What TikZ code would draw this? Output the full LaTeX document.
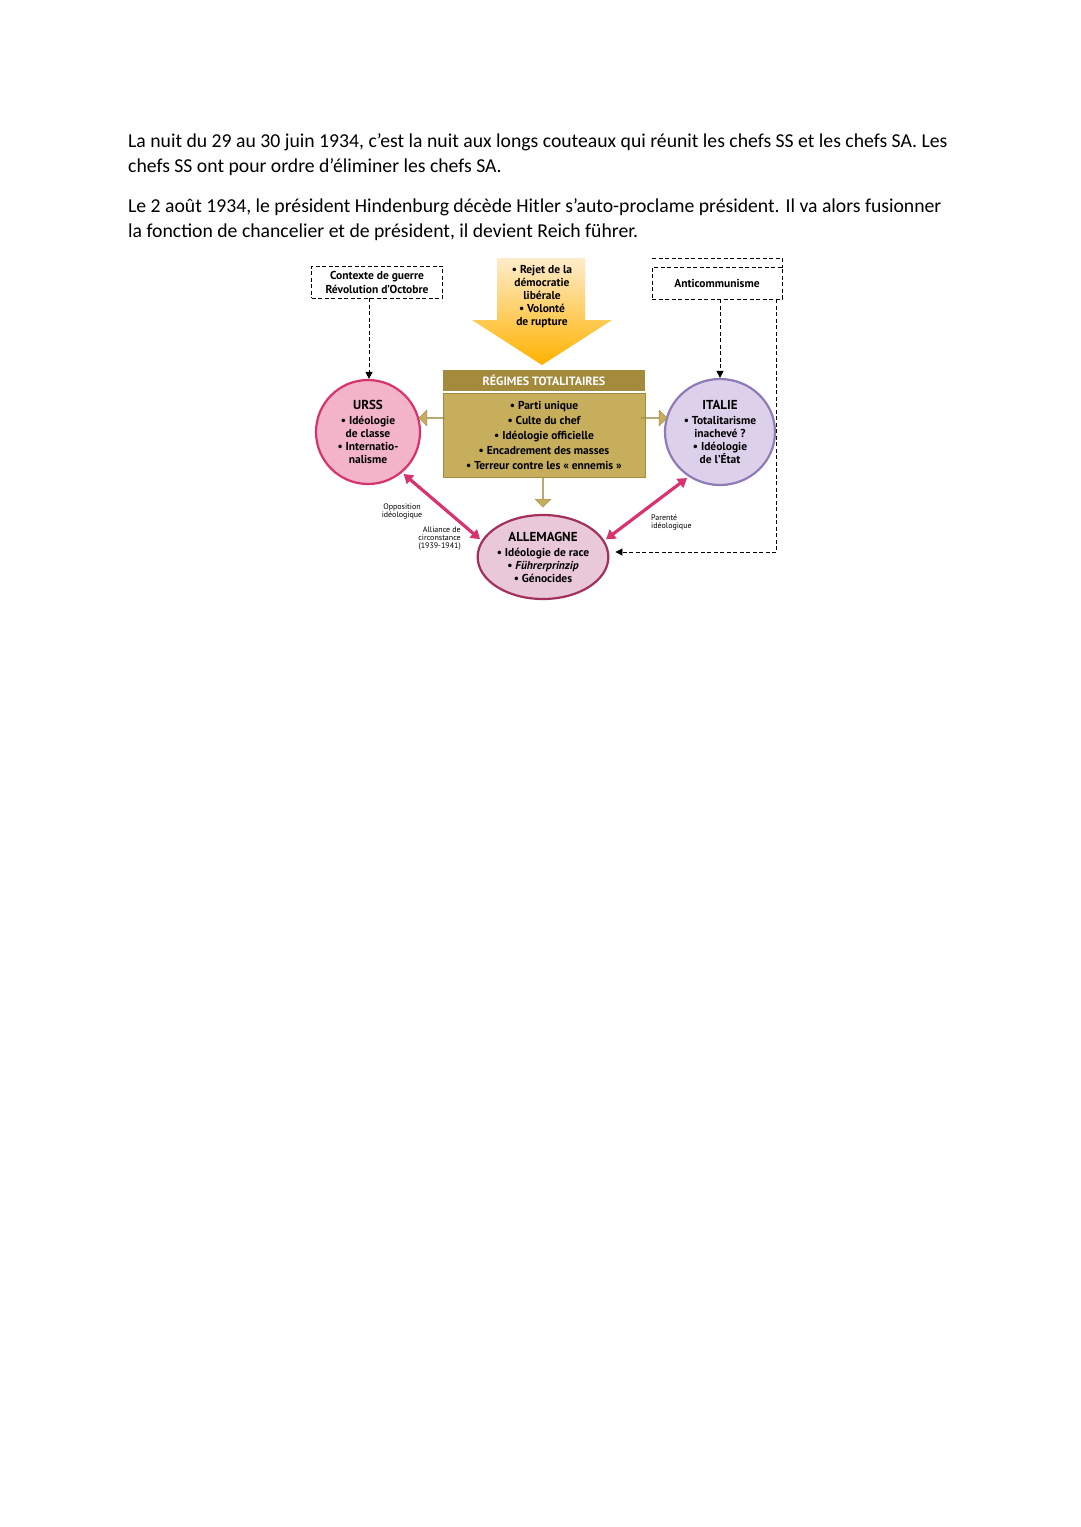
\documentclass[tikz,border=0pt]{standalone}
\usepackage{fontspec}
\setmainfont{Carlito}
\newfontfamily\dg{PT Sans}
\usetikzlibrary{arrows.meta,shapes.arrows,shapes.geometric,calc}
\definecolor{khaki}{HTML}{C6AE5C}
\definecolor{olive}{HTML}{A38A3C}
\definecolor{pinkf}{HTML}{F3B3C8}
\definecolor{pinkd}{HTML}{D8336E}
\definecolor{lilf}{HTML}{DCD0EA}
\definecolor{lild}{HTML}{8E7BB8}
\definecolor{allf}{HTML}{E9C8DA}
\definecolor{alld}{HTML}{A3305C}
\begin{document}
\begin{tikzpicture}[x=1pt,y=-1pt,
  body/.style={anchor=base west,inner sep=0,font=\fontsize{19.7}{22}\selectfont},
  dbox/.style={draw,dashed,line width=0.8pt,dash pattern=on 4pt off 2.5pt},
  dline/.style={line width=0.9pt,dash pattern=on 4pt off 2.5pt,-{Triangle[length=7pt,width=7pt]}},
  dtext/.style={font=\dg\bfseries\fontsize{11.5}{13}\selectfont,align=center,inner sep=0},
  tiny/.style={font=\dg\fontsize{8}{8}\selectfont,inner sep=0},
  kar/.style={draw=khaki!80!black,fill=khaki,single arrow,single arrow head extend=4pt,minimum height=26pt,minimum width=16pt,inner sep=0},
  pk/.style={pinkd,line width=3.2pt,{Triangle[length=9pt,width=11pt]}-{Triangle[length=9pt,width=11pt]},shorten <=2pt,shorten >=2pt},
  circ/.style={ellipse,line width=2.2pt,inner sep=0}
]
\useasboundingbox (0,0) rectangle (1080,1527);
\fill[white] (0,0) rectangle (1080,1527);
\node[body] (t1) at (128,147) {La nuit du 29 au 30 juin 1934, c’est la nuit aux longs couteaux qui réunit les chefs SS et les chefs SA. Les};
\node[body] (t2) at (128,172) {chefs SS ont pour ordre d’éliminer les chefs SA.};
\node[body] (t3) at (128,212) {Le 2 août 1934, le président Hindenburg décède Hitler s’auto-proclame président. Il va alors fusionner};
\node[body] (t4) at (128,237) {la fonction de chancelier et de président, il devient Reich führer.};
% yellow arrow
\shade[top color=yellow!25!orange!20,bottom color=orange!60!yellow] (497,258) -- (585,258) -- (585,320) -- (612,320) -- (542,365) -- (472,320) -- (497,320) -- cycle;
\node[dtext] (rej) at (542,297) {• Rejet de la\\démocratie\\libérale\\• Volonté\\de rupture};
% context boxes
\node[dbox,minimum width=131pt,minimum height=32pt,dtext,font=\dg\bfseries\fontsize{11.5}{14}\selectfont] (ctx) at (377,282) {Contexte de guerre\\Révolution d’Octobre};
\node[dbox,minimum width=130pt,minimum height=32pt,dtext,font=\dg\bfseries\fontsize{11.5}{14}\selectfont] (anti) at (717,283) {Anticommunisme};
% regimes
\node[fill=olive,minimum width=202pt,minimum height=21pt,inner sep=0,text=white,font=\dg\bfseries\fontsize{12}{13}\selectfont] (reg) at (544,380) {RÉGIMES TOTALITAIRES};
\node[fill=khaki,draw=olive,line width=1pt,minimum width=202pt,minimum height=84pt,dtext,font=\dg\bfseries\fontsize{11.5}{15}\selectfont] (regb) at (544,435) {• Parti unique\\• Culte du chef\\• Idéologie officielle\\• Encadrement des masses\\• Terreur contre les « ennemis »};
% circles
\node[circ,draw=pinkd,fill=pinkf,minimum width=104pt,minimum height=104pt,dtext] (urss) at (368,432) {\fontsize{13}{14}\selectfont URSS\\[2pt]• Idéologie\\de classe\\• Internatio-\\nalisme};
\node[circ,draw=lild,fill=lilf,minimum width=110pt,minimum height=106pt,dtext] (ita) at (720,432) {\fontsize{13}{14}\selectfont ITALIE\\[2pt]• Totalitarisme\\inachevé ?\\• Idéologie\\de l’État};
\node[circ,draw=alld,fill=allf,minimum width=126pt,minimum height=84pt,dtext] (all) at (543,557) {\fontsize{13}{14}\selectfont ALLEMAGNE\\[2pt]• Idéologie de race\\• \textit{Führerprinzip}\\• Génocides};
% khaki arrows
\node[kar,shape border rotate=180] (ka1) at (432,418) {};
\node[kar] (ka2) at (654,418) {};
\node[kar,shape border rotate=270,minimum height=30pt] (ka3) at (543,492) {};
% pink arrows
\draw[pk] (urss.-50) -- (all.165);
\draw[pk] (ita.-125) -- (all.15);
% dashed arrows
\coordinate (c1) at (369,298);
\draw[dline] (ctx.south -| c1) -- (urss.north -| c1);
\draw[dline] (anti.south -| ita) -- (ita.north);
\coordinate (r1) at (776,299);
\coordinate (r2) at (776,552);
\draw[line width=0.9pt,dash pattern=on 4pt off 2.5pt] (652,258) -- (782,258) -- (782,268);
\draw[line width=0.9pt,dash pattern=on 4pt off 2.5pt] (r1) -- (r2);
\draw[dline] (r2) -- ($(all.east |- r2)+(6,0)$);
% labels
\node[tiny,align=center] (op) at (402,511) {Opposition\\idéologique};
\node[tiny,align=right,anchor=east] (al) at (461,539) {Alliance de\\circonstance\\(1939-1941)};
\node[tiny,align=left,anchor=west] (pa) at (651,522) {Parenté\\idéologique};
\end{tikzpicture}
\end{document}
